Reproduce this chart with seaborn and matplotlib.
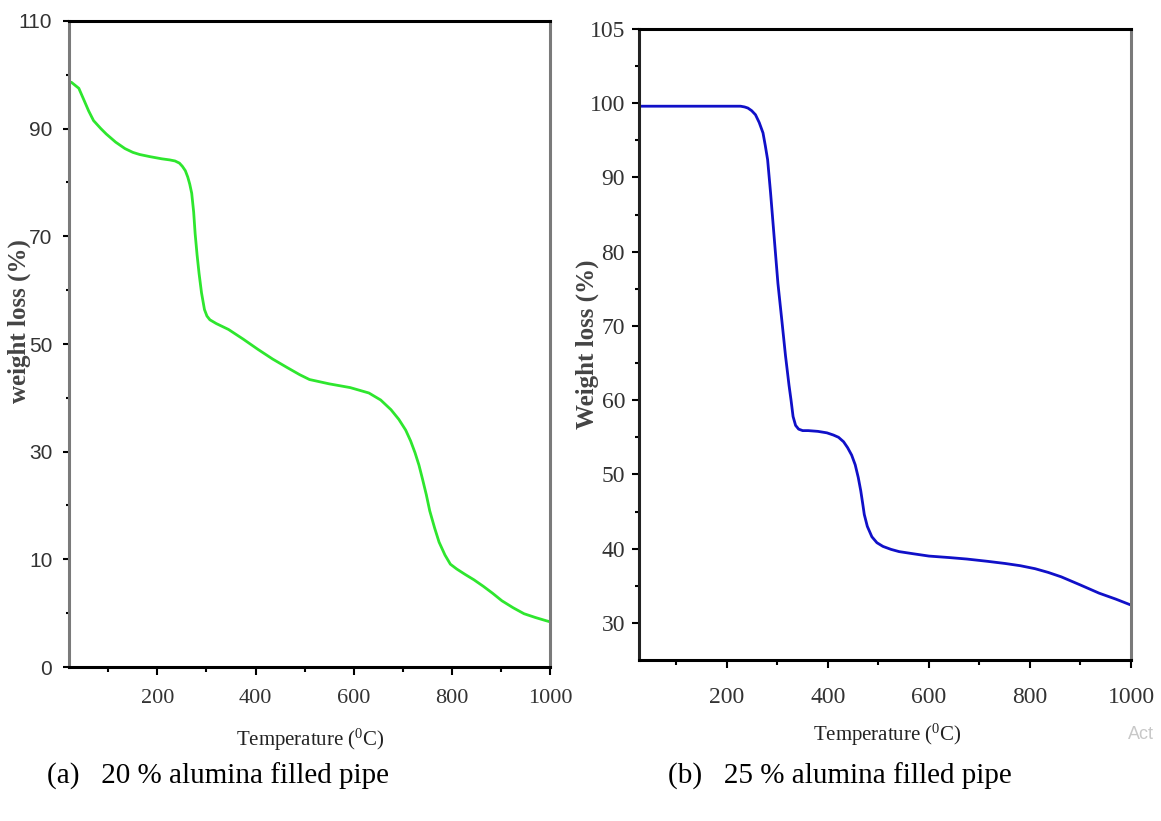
import matplotlib
matplotlib.use("Agg")
import matplotlib.pyplot as plt
import seaborn as sns
import pandas as pd
from matplotlib import font_manager as fm
from matplotlib.ticker import FixedLocator

# ---------------- data ----------------
temp_a = [20, 25, 40, 51, 60, 70, 85, 96, 115, 134, 150, 164, 185, 209, 225, 236,
          245, 251, 257, 262, 266, 270, 274, 277, 281, 285, 290, 296, 301, 307, 320,
          345, 375, 405, 435, 465, 490, 510, 550, 593, 631, 655, 676, 692, 706, 716,
          725, 733, 740, 748, 755, 765, 774, 786, 797, 810, 827, 845, 864, 883, 902,
          925, 947, 970, 992, 1000]
weight_a = [98.7, 98.6, 97.5, 95.2, 93.3, 91.5, 90.0, 89.0, 87.5, 86.3, 85.6, 85.2,
            84.8, 84.4, 84.2, 84.0, 83.6, 83.0, 82.2, 81.0, 79.7, 78.0, 74.5, 70.5,
            66.5, 63.1, 59.5, 56.4, 55.2, 54.5, 53.8, 52.7, 50.9, 49.0, 47.2, 45.6,
            44.3, 43.4, 42.6, 41.9, 40.9, 39.6, 37.8, 36.0, 34.0, 32.0, 29.8, 27.5,
            25.0, 22.0, 19.0, 15.8, 13.2, 10.8, 9.1, 8.2, 7.2, 6.2, 5.0, 3.7, 2.3,
            1.0, -0.1, -0.8, -1.4, -1.6]

temp_b = [26, 60, 100, 150, 200, 227, 235, 241.6, 249, 256.6, 264, 271.5, 276, 280.6,
          286.5, 294, 301, 308.7, 316, 323, 327, 331, 336, 342, 350, 361, 380, 398,
          411, 421, 431, 439, 447, 454, 460, 465, 469, 472, 478, 487, 497, 509, 525,
          541, 570, 600, 640, 675, 715, 751, 781, 810, 836, 862, 900, 937, 970, 1000]
weight_b = [99.6, 99.6, 99.6, 99.6, 99.6, 99.6, 99.5, 99.35, 99.0, 98.45, 97.4, 96.0,
            94.3, 92.4, 87.9, 81.6, 75.75, 70.8, 66.0, 62.0, 60.0, 57.8, 56.6, 56.1,
            55.9, 55.9, 55.8, 55.6, 55.3, 55.0, 54.4, 53.6, 52.6, 51.3, 49.6, 47.8,
            46.0, 44.6, 43.0, 41.6, 40.8, 40.3, 39.9, 39.6, 39.3, 39.0, 38.8, 38.6,
            38.3, 38.0, 37.7, 37.3, 36.8, 36.2, 35.1, 34.0, 33.2, 32.4]

x_ticks = [200, 400, 600, 800, 1000]
x_minor = [100, 300, 500, 700, 900]
y_ticks_a = [-10, 10, 30, 50, 70, 90, 110]
y_labels_a = ["0", "10", "30", "50", "70", "90", "110"]
y_minor_a = [0, 20, 40, 60, 80, 100]
y_ticks_b = [30, 40, 50, 60, 70, 80, 90, 100, 110]
y_labels_b = ["30", "40", "50", "60", "70", "80", "90", "100", "105"]
y_minor_b = [35, 45, 55, 65, 75, 85, 95, 105]

ylabel_a = "weight loss (%)"
ylabel_b = "Weight loss (%)"
xlabel = r"Temperature ($\mathregular{^{0}}$C)"
caption_a = "(a)   20 % alumina filled pipe"
caption_b = "(b)   25 % alumina filled pipe"

# ---------------- style ----------------
sns.set_theme(style="ticks")
names = {f.name for f in fm.fontManager.ttflist}
serif = "Liberation Serif" if "Liberation Serif" in names else "DejaVu Serif"
narrow = "Liberation Sans Narrow" if "Liberation Sans Narrow" in names else "Liberation Sans"
plt.rcParams["font.family"] = [serif, "DejaVu Serif"]
plt.rcParams["mathtext.fontset"] = "custom"
plt.rcParams["mathtext.rm"] = serif

W, H = 1161, 821
fig = plt.figure(figsize=(W / 100, H / 100), dpi=100)
fig.patch.set_facecolor("white")

def px_axes(left, top, right, bottom):
    return fig.add_axes([left / W, 1 - bottom / H, (right - left) / W, (bottom - top) / H])

ax1 = px_axes(69, 21, 550, 667)
ax2 = px_axes(639, 29, 1131, 660)

df_a = pd.DataFrame({"Temperature": temp_a, "Weight": weight_a})
df_b = pd.DataFrame({"Temperature": temp_b, "Weight": weight_b})

sns.lineplot(data=df_a, x="Temperature", y="Weight", ax=ax1, color="#2ee62e",
             linewidth=2.0, sort=False)
sns.lineplot(data=df_b, x="Temperature", y="Weight", ax=ax2, color="#1010c8",
             linewidth=2.0, sort=False)

ax1.set_xlim(20, 1000)
ax1.set_ylim(-10, 110)
ax2.set_xlim(26, 1000)
ax2.set_ylim(25, 110)

for ax, yt, yl, ym in [(ax1, y_ticks_a, y_labels_a, y_minor_a),
                       (ax2, y_ticks_b, y_labels_b, y_minor_b)]:
    ax.set_xticks(x_ticks)
    ax.xaxis.set_minor_locator(FixedLocator(x_minor))
    ax.set_yticks(yt)
    ax.set_yticklabels(yl)
    ax.yaxis.set_minor_locator(FixedLocator(ym))
    ax.tick_params(axis="x", which="major", direction="out", length=6, width=1.5, color="black")
    ax.tick_params(axis="x", which="minor", direction="out", length=3.5, width=1.5, color="black")
    for s in ["top", "bottom", "left", "right"]:
        ax.spines[s].set_visible(True)
        ax.spines[s].set_linewidth(2.2)
    ax.spines["top"].set_color("black")
    ax.spines["bottom"].set_color("black")
    ax.spines["right"].set_color("#7a7a7a")
    ax.grid(False)

ax1.spines["left"].set_color("#7a7a7a")
ax2.spines["left"].set_color("#222222")

# tick labels
ax1.tick_params(axis="y", which="major", direction="out", length=4, width=1.5, color="black", pad=8)
ax1.tick_params(axis="y", which="minor", direction="out", length=2.5, width=1.5, color="black")
ax1.tick_params(axis="x", pad=10)
for t in ax1.get_yticklabels():
    t.set_fontfamily(narrow)
    t.set_fontsize(15)
    t.set_color("#333333")
for t in ax1.get_xticklabels():
    t.set_fontfamily(serif)
    t.set_fontsize(16)
    t.set_color("#333333")

ax2.tick_params(axis="y", which="major", direction="out", length=5, width=1.5, color="black", pad=5)
ax2.tick_params(axis="y", which="minor", direction="out", length=3, width=1.5, color="black")
ax2.tick_params(axis="x", pad=13.5)
for t in ax2.get_yticklabels() + ax2.get_xticklabels():
    t.set_fontfamily(serif)
    t.set_fontsize(17)
    t.set_color("#333333")

# axis labels
ax1.set_ylabel(ylabel_a, fontsize=18, fontweight="bold", color="#444444", family=serif)
ax1.yaxis.set_label_coords((19 - 69) / 481, 0.536)
ax1.yaxis.label.set_va("center")
ax2.set_ylabel(ylabel_b, fontsize=18, fontweight="bold", color="#444444", family=serif)
ax2.yaxis.set_label_coords(-0.1057, 0.5)
ax2.yaxis.label.set_va("center")

ax1.set_xlabel(xlabel, fontsize=15, color="#222222", family=serif)
ax1.xaxis.set_label_coords(0.501, -0.113)
ax1.xaxis.label.set_va("center")
ax2.set_xlabel(xlabel, fontsize=15, color="#222222", family=serif)
ax2.xaxis.set_label_coords(0.504, -0.119)
ax2.xaxis.label.set_va("center")

# captions
fig.text(47 / W, 1 - 776 / H, caption_a, fontsize=21, family=serif, color="black",
         ha="left", va="center")
fig.text(668 / W, 1 - 776 / H, caption_b, fontsize=21, family=serif, color="black",
         ha="left", va="center")
fig.text(1128 / W, 1 - 734 / H, "Act", fontsize=13, family="Liberation Sans",
         color="#c8c8c8", ha="left", va="center")

fig.savefig("out.png", dpi=100, facecolor="white")
